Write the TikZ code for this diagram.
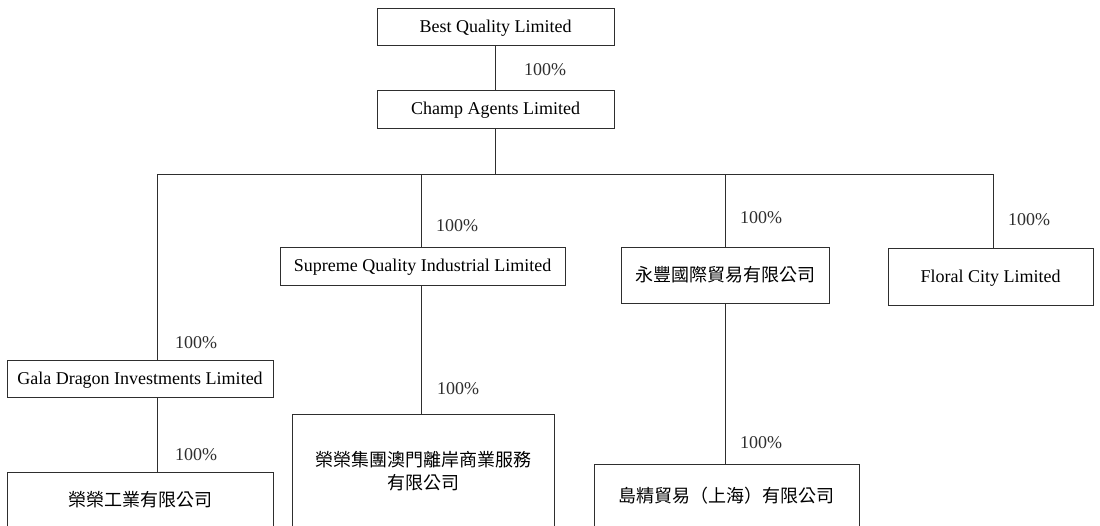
\documentclass[tikz,border=0pt]{standalone}
\usepackage{fontspec}
\setmainfont{Liberation Serif}
\newfontfamily\cjk{Noto Sans CJK TC}
\usepackage{tikz}
\usetikzlibrary{calc, positioning}
\definecolor{LineGrey}{HTML}{2E2E2E}

\begin{document}
\begin{tikzpicture}[x=1pt, y=-1pt, font=\fontsize{18}{23}\selectfont,
    entity/.style={draw=LineGrey, line width=0.8pt, inner sep=0pt, align=center},
    latin/.style={entity, text height=14pt, text depth=3pt},
    share/.style={anchor=west, inner sep=0pt, text=LineGrey},
    link/.style={draw=LineGrey, line width=0.8pt}]
  \useasboundingbox (0,0) rectangle (1100,525);
  \clip (0,0) rectangle (1100,525);
  % Holding chain
  \node[latin, minimum width=237pt, minimum height=37pt] (best)
    at (495.5, 26.5) {Best Quality Limited};
  \node[latin, minimum width=237pt, minimum height=38pt] (champ)
    at (495.5, 109) {Champ Agents Limited};
  % First tier subsidiaries
  \node[latin, minimum width=266pt, minimum height=37pt] (gala)
    at (140, 378.5) {Gala Dragon Investments Limited};
  \node[latin, minimum width=285pt, minimum height=38pt] (supreme)
    at (422.5, 266) {Supreme Quality Industrial Limited};
  \node[entity, minimum width=208pt, minimum height=56pt] (wingfung)
    at (725, 275) {\cjk 永豐國際貿易有限公司};
  \node[latin, minimum width=205pt, minimum height=57pt] (floral)
    at (990.5, 276.5) {Floral City Limited};
  % Second tier (run off the page bottom)
  \node[entity, minimum width=266pt, minimum height=56pt] (wingind)
    at (140, 500) {\cjk 榮榮工業有限公司};
  \node[entity, minimum width=262pt, minimum height=115pt] (macao)
    at (423, 471.5) {\cjk 榮榮集團澳門離岸商業服務\\\cjk 有限公司};
  \node[entity, minimum width=265pt, minimum height=64pt] (shanghai)
    at (726.5, 496) {\cjk 島精貿易（上海）有限公司};
  % Bus
  \coordinate (busG) at (157, 174);
  \coordinate (busS) at (421, 174);
  \coordinate (busC) at (495.5, 174);
  \coordinate (busW) at (725, 174);
  \coordinate (busF) at (993, 174);
  \draw[link] (best) -- (champ);
  \draw[link] (champ.south) -- (busC);
  \draw[link] (busG) -- (busF);
  \draw[link] (busG) -- (busG |- gala.north)
              (busG |- gala.south) -- (busG |- wingind.north);
  \draw[link] (busS) -- (busS |- supreme.north)
              (busS |- supreme.south) -- (busS |- macao.north);
  \draw[link] (busW) -- (busW |- wingfung.north)
              (busW |- wingfung.south) -- (busW |- shanghai.north);
  \draw[link] (busF) -- (busF |- floral.north);
  % Shareholdings
  \node[share] (p1) at (524, 70) {100\%};
  \node[share] (p2) at (436, 226) {100\%};
  \node[share] (p3) at (740, 218) {100\%};
  \node[share] (p4) at (1008, 220) {100\%};
  \node[share] (p5) at (175, 343) {100\%};
  \node[share] (p6) at (437, 389) {100\%};
  \node[share] (p7) at (740, 443) {100\%};
  \node[share] (p8) at (175, 455) {100\%};
\end{tikzpicture}
\end{document}
